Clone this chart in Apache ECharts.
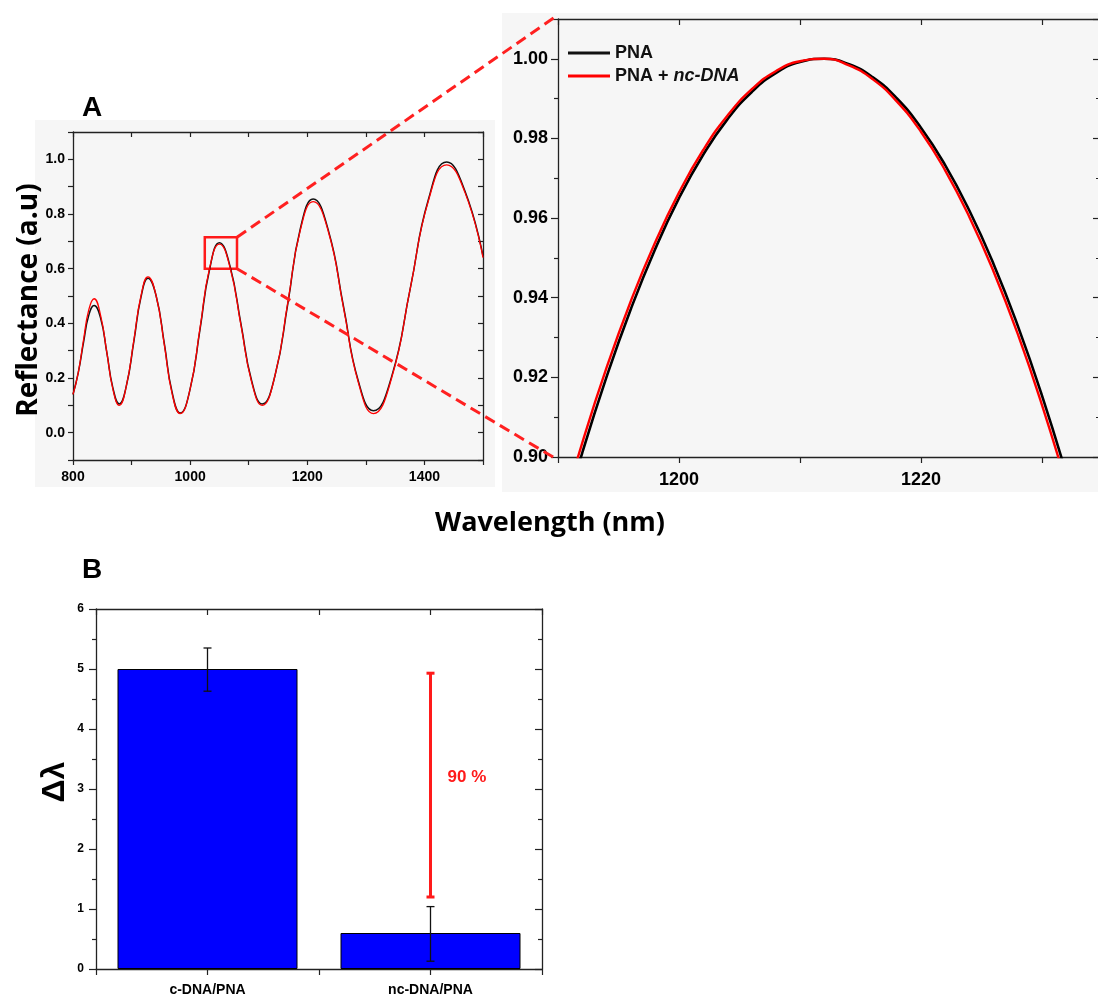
<!DOCTYPE html>
<html>
<head>
<meta charset="utf-8">
<script src="https://cdn.jsdelivr.net/npm/echarts@6/dist/echarts.min.js"></script>
<style>
  html, body { margin: 0; padding: 0; background: #fff; }
  #main { width: 1098px; height: 998px; }
</style>
</head>
<body>
<div id="main"></div>
<script>
// panel A: full spectrum
var wavelengthA = [800, 809, 818, 827, 836, 847, 858, 868, 879, 891, 904, 916, 928, 942, 956, 969, 983, 1000, 1017, 1033, 1050, 1068, 1087, 1105, 1123, 1145, 1167, 1188, 1210, 1236, 1262, 1287, 1313, 1344, 1376, 1407, 1438, 1469, 1500];
var pnaA = [0.14, 0.22, 0.33, 0.43, 0.465, 0.42, 0.29, 0.165, 0.105, 0.17, 0.335, 0.495, 0.565, 0.50, 0.325, 0.15, 0.072, 0.16, 0.38, 0.595, 0.695, 0.61, 0.395, 0.19, 0.105, 0.21, 0.475, 0.745, 0.855, 0.74, 0.46, 0.19, 0.08, 0.205, 0.53, 0.855, 0.99, 0.885, 0.645];
var ncDnaA = [0.14, 0.22, 0.34, 0.45, 0.49, 0.43, 0.29, 0.16, 0.10, 0.17, 0.34, 0.50, 0.57, 0.50, 0.32, 0.145, 0.07, 0.16, 0.385, 0.60, 0.69, 0.605, 0.39, 0.185, 0.10, 0.21, 0.48, 0.74, 0.845, 0.735, 0.455, 0.185, 0.07, 0.20, 0.53, 0.85, 0.98, 0.88, 0.64];

// inset: zoom on one peak
var wavelengthInset = [1190, 1192, 1194, 1196, 1198, 1200, 1202, 1204, 1206, 1208, 1210, 1212, 1214, 1216, 1218, 1220, 1222, 1224, 1226, 1228, 1230, 1232, 1234];
var pnaInset = [0.8799, 0.9010, 0.9200, 0.9370, 0.9520, 0.9650, 0.9759, 0.9848, 0.9916, 0.9964, 0.9992, 1.0000, 0.9987, 0.9954, 0.9901, 0.9827, 0.9733, 0.9619, 0.9485, 0.9330, 0.9155, 0.8959, 0.8744];
var ncDnaInset = [0.8827, 0.9035, 0.9223, 0.9390, 0.9537, 0.9664, 0.9771, 0.9857, 0.9923, 0.9969, 0.9994, 1.0000, 0.9984, 0.9949, 0.9893, 0.9817, 0.9720, 0.9603, 0.9466, 0.9309, 0.9131, 0.8933, 0.8715];

// panel B: wavelength shift
var barCategories = ['c-DNA/PNA', 'nc-DNA/PNA'];
var shiftValues = [5.0, 0.6];
var shiftErrLow = [4.63, 0.13];
var shiftErrHigh = [5.35, 1.04];
var dropRange = [1.2, 4.93];
var dropLabel = '90 %';

var zoomBox = [[1025, 0.60], [1080, 0.715]];

var AXIS_COLOR = '#222';
var TICK_FONT = 'Liberation Sans';
var RED = '#ff0000';

function pairs(xs, ys) {
    return xs.map(function(x, i) { return [x, ys[i]]; });
}

function makeAxis(gridIndex, position, base) {
    var mirror = position === 'top' || position === 'right';
    var axis = {
        gridIndex: gridIndex,
        type: 'value',
        position: position,
        min: base.min,
        max: base.max,
        interval: base.interval,
        splitLine: { show: false },
        axisLine: { show: true, onZero: false, lineStyle: { color: AXIS_COLOR, width: 1.3 } },
        axisTick: { show: true, inside: mirror, length: base.tickLen || 5, lineStyle: { color: AXIS_COLOR, width: 1.2 } },
        axisLabel: {
            show: !mirror,
            fontFamily: TICK_FONT,
            fontWeight: 'bold',
            fontSize: base.fontSize,
            color: '#000',
            margin: base.margin,
            formatter: base.formatter
        }
    };
    if (base.minor) {
        axis.minorTick = { show: true, splitNumber: base.minor, length: 4, lineStyle: { color: AXIS_COLOR, width: 1.2 } };
    }
    return axis;
}

var axAx = { min: 800, max: 1500, interval: 100, fontSize: 14, margin: 10,
    formatter: function(v) { return (v - 800) % 200 === 0 ? String(v) : ''; } };
var ayA = { min: -0.1, max: 1.1, interval: 0.1, fontSize: 14, margin: 8,
    formatter: function(v) {
        var k = Math.round(v * 10);
        return (k >= 0 && k % 2 === 0) ? (k / 10).toFixed(1) : '';
    } };
var axInset = { min: 1190, max: 1234.8, interval: 10, fontSize: 18, margin: 14, tickLen: 6,
    formatter: function(v) { return Math.abs(v % 20) < 1e-6 ? String(v) : ''; } };
var ayInset = { min: 0.9, max: 1.01, interval: 0.02, fontSize: 18, margin: 10, tickLen: 7, minor: 2,
    formatter: function(v) {
        var k = Math.round(v * 100);
        return k % 2 === 0 ? (k / 100).toFixed(2) : '';
    } };
var axB = { min: 0.5, max: 2.5, interval: 0.5, fontSize: 14, margin: 14, tickLen: 6,
    formatter: function(v) {
        var r = Math.round(v);
        return (Math.abs(v - r) < 1e-6 && barCategories[r - 1]) ? barCategories[r - 1] : '';
    } };
var ayB = { min: 0, max: 6, interval: 1, fontSize: 12, margin: 12, tickLen: 7, minor: 2,
    formatter: function(v) { return String(v); } };

function renderRange(color, width, cap, label) {
    return function(params, api) {
        var top = api.coord([api.value(0), api.value(2)]);
        var bot = api.coord([api.value(0), api.value(1)]);
        var st = { stroke: color, lineWidth: width };
        var children = [
            { type: 'line', shape: { x1: top[0], y1: top[1], x2: bot[0], y2: bot[1] }, style: st },
            { type: 'line', shape: { x1: top[0] - cap, y1: top[1], x2: top[0] + cap, y2: top[1] }, style: st },
            { type: 'line', shape: { x1: bot[0] - cap, y1: bot[1], x2: bot[0] + cap, y2: bot[1] }, style: st }
        ];
        if (label) {
            var mid = api.coord([api.value(0), 3.2]);
            children.push({
                type: 'text', x: mid[0] + 17, y: mid[1],
                style: { text: label, fill: color, font: 'bold 17px "Liberation Sans"', align: 'left', verticalAlign: 'middle' }
            });
        }
        return { type: 'group', children: children };
    };
}

var baseGraphic = [
    { type: 'rect', id: 'bgA', z: -10, shape: { x: 35, y: 120, width: 460, height: 367 }, style: { fill: '#f6f6f6' } },
    { type: 'rect', id: 'bgInset', z: -10, shape: { x: 502, y: 13, width: 596, height: 479 }, style: { fill: '#f6f6f6' } },
    { type: 'text', id: 'lblA', x: 92, y: 108, style: { text: 'A', font: 'bold 28px "Liberation Sans"', fill: '#000', align: 'center', verticalAlign: 'middle' } },
    { type: 'text', id: 'lblB', x: 92, y: 570, style: { text: 'B', font: 'bold 28px "Liberation Sans"', fill: '#000', align: 'center', verticalAlign: 'middle' } },
    { type: 'text', id: 'ylabA', x: 29, y: 300, rotation: Math.PI / 2, style: { text: 'Reflectance (a.u)', font: 'bold 28px "Open Sans"', fill: '#000', align: 'center', verticalAlign: 'middle' } },
    { type: 'text', id: 'xlabA', x: 550, y: 523, style: { text: 'Wavelength (nm)', font: 'bold 27px "Open Sans"', fill: '#000', align: 'center', verticalAlign: 'middle' } },
    { type: 'text', id: 'ylabB', x: 55, y: 782, rotation: Math.PI / 2, style: { text: 'Δλ', font: 'bold 32px "Liberation Sans"', fill: '#000', align: 'center', verticalAlign: 'middle' } }
];

var option = {
    animation: false,
    backgroundColor: '#fff',
    grid: [
        { left: 73, top: 132, width: 410, height: 328, outerBoundsMode: 'none' },
        { left: 558, top: 19, width: 542, height: 438, outerBoundsMode: 'none' },
        { left: 96, top: 609, width: 446, height: 360, outerBoundsMode: 'none' }
    ],
    xAxis: [
        makeAxis(0, 'bottom', axAx),
        makeAxis(0, 'top', axAx),
        makeAxis(1, 'bottom', axInset),
        makeAxis(1, 'top', axInset),
        makeAxis(2, 'bottom', axB),
        makeAxis(2, 'top', axB)
    ],
    yAxis: [
        makeAxis(0, 'left', ayA),
        makeAxis(0, 'right', ayA),
        makeAxis(1, 'left', ayInset),
        makeAxis(1, 'right', ayInset),
        makeAxis(2, 'left', ayB),
        makeAxis(2, 'right', ayB)
    ],
    legend: {
        data: ['PNA', 'PNA + nc-DNA'],
        orient: 'vertical',
        left: 563,
        top: 39,
        icon: 'rect',
        itemWidth: 42,
        itemHeight: 3,
        itemGap: 5,
        selectedMode: false,
        formatter: function(name) {
            return name === 'PNA + nc-DNA' ? 'PNA + {i|nc-DNA}' : name;
        },
        textStyle: {
            fontFamily: TICK_FONT, fontWeight: 'bold', fontSize: 18, color: '#111', lineHeight: 18,
            rich: { i: { fontFamily: TICK_FONT, fontWeight: 'bold', fontStyle: 'italic', fontSize: 18, color: '#111' } }
        }
    },
    graphic: baseGraphic,
    series: [
        {
            name: 'PNA', type: 'line', xAxisIndex: 0, yAxisIndex: 0,
            data: pairs(wavelengthA, pnaA), smooth: 0.5, symbol: 'none',
            itemStyle: { color: '#111' }, lineStyle: { color: '#111', width: 1.5 }
        },
        {
            name: 'PNA + nc-DNA', type: 'line', xAxisIndex: 0, yAxisIndex: 0,
            data: pairs(wavelengthA, ncDnaA), smooth: 0.5, symbol: 'none',
            itemStyle: { color: RED }, lineStyle: { color: RED, width: 1.3 },
            markArea: {
                silent: true,
                itemStyle: { color: 'rgba(0,0,0,0)', borderColor: '#ff1a1a', borderWidth: 2.5 },
                data: [[{ xAxis: zoomBox[0][0], yAxis: zoomBox[0][1] }, { xAxis: zoomBox[1][0], yAxis: zoomBox[1][1] }]]
            }
        },
        {
            name: 'PNA', type: 'line', xAxisIndex: 2, yAxisIndex: 2,
            data: pairs(wavelengthInset, pnaInset), smooth: 0.5, symbol: 'none',
            itemStyle: { color: '#000' }, lineStyle: { color: '#000', width: 2.6 }
        },
        {
            name: 'PNA + nc-DNA', type: 'line', xAxisIndex: 2, yAxisIndex: 2,
            data: pairs(wavelengthInset, ncDnaInset), smooth: 0.5, symbol: 'none',
            itemStyle: { color: RED }, lineStyle: { color: RED, width: 2.4 }
        },
        {
            name: 'shift', type: 'bar', xAxisIndex: 4, yAxisIndex: 4, barWidth: 180,
            data: shiftValues.map(function(v, i) { return [i + 1, v]; }),
            itemStyle: { color: '#0000ff', borderColor: '#000', borderWidth: 1 }
        },
        {
            name: 'error', type: 'custom', xAxisIndex: 4, yAxisIndex: 4, z: 5,
            encode: { x: 0, y: [1, 2] },
            data: shiftValues.map(function(v, i) { return [i + 1, shiftErrLow[i], shiftErrHigh[i]]; }),
            renderItem: renderRange('#111', 1.3, 4)
        },
        {
            name: 'drop', type: 'custom', xAxisIndex: 4, yAxisIndex: 4, z: 6,
            encode: { x: 0, y: [1, 2] },
            data: [[2, dropRange[0], dropRange[1]]],
            renderItem: renderRange('#ff1a1a', 3, 4, dropLabel)
        }
    ]
};

var chart = echarts.init(document.getElementById('main'));
chart.setOption(option);

// dashed guide lines from the zoom box to the inset corners
var boxTop = chart.convertToPixel({ xAxisIndex: 0, yAxisIndex: 0 }, [zoomBox[1][0], zoomBox[1][1]]);
var boxBot = chart.convertToPixel({ xAxisIndex: 0, yAxisIndex: 0 }, [zoomBox[1][0], zoomBox[0][1]]);
var insetTop = chart.convertToPixel({ xAxisIndex: 2, yAxisIndex: 2 }, [axInset.min, ayInset.max]);
var insetBot = chart.convertToPixel({ xAxisIndex: 2, yAxisIndex: 2 }, [axInset.min, ayInset.min]);
var dashStyle = { stroke: '#ff2020', lineWidth: 3, lineDash: [11, 6] };
chart.setOption({
    graphic: baseGraphic.concat([
        { type: 'line', id: 'guideTop', z: 100, shape: { x1: boxTop[0], y1: boxTop[1], x2: insetTop[0], y2: insetTop[1] - 4 }, style: dashStyle },
        { type: 'line', id: 'guideBot', z: 100, shape: { x1: boxBot[0], y1: boxBot[1], x2: insetBot[0], y2: insetBot[1] + 3 }, style: dashStyle }
    ])
});
</script>
</body>
</html>
